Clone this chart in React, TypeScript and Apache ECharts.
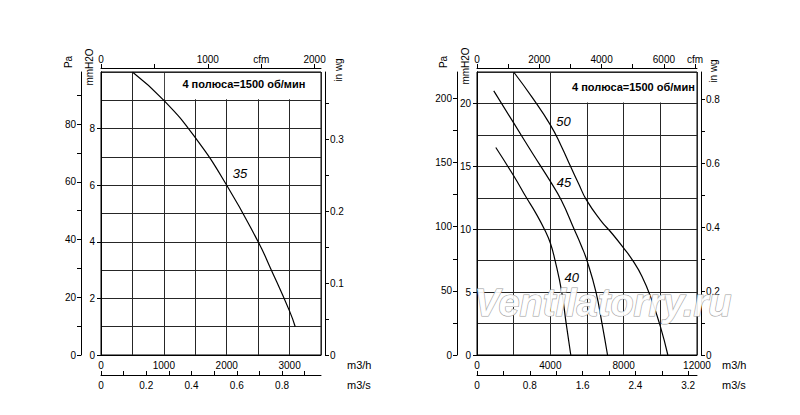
import React, { useEffect, useRef } from "react";
import * as echarts from "echarts";

// ---------- unit conversions ----------
const M3H_PER_CFM = 1.699011;
const PA_PER_MM = 9.80665;
const MM_PER_INWG = 25.4;
const M3H_PER_M3S = 3600;

// ---------- left chart (fan 35) ----------
const leftFlowMax = 3500; // m3/h
const leftPressMax = 10; // mmH2O
const leftFlowInterval = 500;
const leftFlowLabels = [0, 1000, 2000, 3000];
const leftM3sTicks = [0, 0.1, 0.2, 0.3, 0.4, 0.5, 0.6, 0.7, 0.8, 0.9];
const leftM3sLabels = [0, 0.2, 0.4, 0.6, 0.8];
const leftCfmTicks = [0, 500, 1000, 1500, 2000];
const leftCfmLabels = [0, 1000, 1500, 2000]; // 1500 shows "cfm"
const leftCfmNameAt = 1500;
const leftMmInterval = 1;
const leftMmLabels = [0, 2, 4, 6, 8];
const leftPaTicks = [0, 10, 20, 30, 40, 50, 60, 70, 80, 90];
const leftPaLabels = [0, 20, 40, 60, 80];
const leftInwgTicks = [0, 0.05, 0.1, 0.15, 0.2, 0.25, 0.3, 0.35];
const leftInwgLabels = [0, 0.1, 0.2, 0.3];
const curve35: number[][] = [
  [500, 10], [1000, 9], [1500, 7.68], [2000, 6], [2500, 4], [2700, 3.05], [3000, 1.55], [3090, 1],
];
const leftCurveLabels = [{ name: "35", at: [2210, 6.43] }];
const leftNote = { text: "4 полюса=1500 об/мин", at: [2273, 9.56], box: [1000, 10, 3500, 9] };

// ---------- right chart (fans 40, 45, 50) ----------
const rightFlowMax = 12000;
const rightPressMax = 22.5;
const rightFlowInterval = 2000;
const rightFlowLabels = [0, 4000, 8000, 12000];
const rightM3sTicks = [0, 0.4, 0.8, 1.2, 1.6, 2, 2.4, 2.8, 3.2];
const rightM3sLabels = [0, 0.8, 1.6, 2.4, 3.2];
const rightCfmTicks = [0, 1000, 2000, 3000, 4000, 5000, 6000, 7000];
const rightCfmLabels = [0, 2000, 4000, 6000, 7000]; // 7000 shows "cfm"
const rightCfmNameAt = 7000;
const rightMmInterval = 2.5;
const rightMmLabels = [0, 5, 10, 15, 20];
const rightPaTicks = [0, 25, 50, 75, 100, 125, 150, 175, 200];
const rightPaLabels = [0, 50, 100, 150, 200];
const rightInwgTicks = [0, 0.1, 0.2, 0.3, 0.4, 0.5, 0.6, 0.7, 0.8];
const rightInwgLabels = [0, 0.2, 0.4, 0.6, 0.8];
const curve50: number[][] = [
  [2000, 22.5], [3000, 20.5], [4000, 18.3], [4600, 16.6], [5100, 15], [5550, 13.6], [5960, 12.35],
  [6720, 10.75], [7400, 9.6], [8000, 8.5], [8500, 7.5], [9000, 6.25], [9500, 4.5], [10000, 2.28],
  [10410, 0],
];
const curve45: number[][] = [
  [915, 21], [2000, 18.45], [3000, 16.1], [4000, 13.8], [4600, 12.3], [5300, 10], [5700, 8.65],
  [6000, 7.5], [6490, 5], [6820, 2.5], [7120, 0],
];
const curve40: number[][] = [
  [1025, 16.5], [2000, 14.25], [2700, 12.5], [3200, 11.3], [3710, 9.9], [4000, 8.9], [4260, 7.5],
  [4623, 5], [4865, 2.5], [5115, 0],
];
const rightCurveLabels = [
  { name: "50", at: [4712, 18.6] },
  { name: "45", at: [4751, 13.74] },
  { name: "40", at: [5173, 6.18] },
];
const rightNote = { text: "4 полюса=1500 об/мин", at: [8532, 21.27], box: [4000, 22.5, 12000, 20] };

const watermark = "Ventilatorry.ru";

const FONT = '"Liberation Sans", Arial, Helvetica, sans-serif';
const TICK_FS = 10;
const GRID_COLOR = "#262626";

const num = (v: number) => String(Math.round(v * 1000) / 1000);

function buildGridAxes(
  gridIndex: number,
  cfg: {
    flowMax: number; pressMax: number; flowInterval: number; flowLabels: number[];
    m3sTicks: number[]; m3sLabels: number[]; cfmTicks: number[]; cfmLabels: number[]; cfmNameAt: number;
    mmInterval: number; mmLabels: number[]; paTicks: number[]; paLabels: number[];
    inwgTicks: number[]; inwgLabels: number[];
  }
) {
  const lbl = { color: "#000", fontSize: TICK_FS, fontFamily: FONT };
  const line = { show: true, onZero: false, lineStyle: { color: "#000", width: 1 } };
  const xAxes = [
    {
      gridIndex, type: "value", position: "bottom", min: 0, max: cfg.flowMax, interval: cfg.flowInterval,
      axisLine: line, axisTick: { show: false },
      axisLabel: { ...lbl, margin: 5, customValues: cfg.flowLabels, formatter: (v: number) => (cfg.flowLabels.includes(v) ? num(v) : "") },
      splitLine: { show: true, lineStyle: { color: GRID_COLOR, width: 1 } },
    },
    {
      gridIndex, type: "value", position: "bottom", offset: 20, min: 0, max: cfg.flowMax / M3H_PER_M3S,
      axisLine: line,
      axisTick: { show: true, inside: true, length: 4, customValues: cfg.m3sTicks, lineStyle: { color: "#000" } },
      axisLabel: { ...lbl, margin: 5, customValues: cfg.m3sLabels, formatter: (v: number) => num(v) },
      splitLine: { show: false },
    },
    {
      gridIndex, type: "value", position: "top", offset: 4, min: 0, max: cfg.flowMax / M3H_PER_CFM,
      axisLine: line,
      axisTick: { show: true, inside: false, length: 4, customValues: cfg.cfmTicks, lineStyle: { color: "#000" } },
      axisLabel: { ...lbl, margin: 4, customValues: cfg.cfmLabels, formatter: (v: number) => (Math.abs(v - cfg.cfmNameAt) < 1e-6 ? "cfm" : num(v)) },
      splitLine: { show: false },
    },
  ];
  const yAxes = [
    {
      // mmH2O: grid lines + labels
      gridIndex, type: "value", position: "left", min: 0, max: cfg.pressMax, interval: cfg.mmInterval,
      axisLine: line,
      axisTick: { show: false },
      axisLabel: { ...lbl, margin: 6, customValues: cfg.mmLabels, formatter: (v: number) => (cfg.mmLabels.includes(v) ? num(v) : "") },
      splitLine: { show: true, lineStyle: { color: GRID_COLOR, width: 1 } },
    },
    {
      gridIndex, type: "value", position: "left", offset: 20, min: 0, max: cfg.pressMax * PA_PER_MM,
      axisLine: line,
      axisTick: { show: true, length: 4, customValues: cfg.paTicks, lineStyle: { color: "#000" } },
      axisLabel: { ...lbl, margin: 5, customValues: cfg.paLabels, formatter: (v: number) => num(v) },
      splitLine: { show: false },
    },
    {
      gridIndex, type: "value", position: "right", offset: 4, min: 0, max: cfg.pressMax / MM_PER_INWG,
      axisLine: line,
      axisTick: { show: true, length: 4, customValues: cfg.inwgTicks, lineStyle: { color: "#000" } },
      axisLabel: { ...lbl, margin: 5, customValues: cfg.inwgLabels, formatter: (v: number) => num(v) },
      splitLine: { show: false },
    },
    {
      // mmH2O: ticks only at labelled values
      gridIndex, type: "value", position: "left", offset: 0, min: 0, max: cfg.pressMax,
      axisLine: line,
      axisTick: { show: true, length: 4, customValues: cfg.mmLabels, lineStyle: { color: "#000" } },
      axisLabel: { show: false },
      splitLine: { show: false },
    },
  ];
  return { xAxes, yAxes };
}

const leftAxes = buildGridAxes(0, {
  flowMax: leftFlowMax, pressMax: leftPressMax, flowInterval: leftFlowInterval, flowLabels: leftFlowLabels,
  m3sTicks: leftM3sTicks, m3sLabels: leftM3sLabels, cfmTicks: leftCfmTicks, cfmLabels: leftCfmLabels, cfmNameAt: leftCfmNameAt,
  mmInterval: leftMmInterval, mmLabels: leftMmLabels, paTicks: leftPaTicks, paLabels: leftPaLabels,
  inwgTicks: leftInwgTicks, inwgLabels: leftInwgLabels,
});
const rightAxes = buildGridAxes(1, {
  flowMax: rightFlowMax, pressMax: rightPressMax, flowInterval: rightFlowInterval, flowLabels: rightFlowLabels,
  m3sTicks: rightM3sTicks, m3sLabels: rightM3sLabels, cfmTicks: rightCfmTicks, cfmLabels: rightCfmLabels, cfmNameAt: rightCfmNameAt,
  mmInterval: rightMmInterval, mmLabels: rightMmLabels, paTicks: rightPaTicks, paLabels: rightPaLabels,
  inwgTicks: rightInwgTicks, inwgLabels: rightInwgLabels,
});

// axis indices: left grid x 0..2 / y 0..3, right grid x 3..5 / y 4..7
const L_X = 0, L_Y = 0, R_X = 3, R_Y = 4;

const curveSeries = (data: number[][], xAxisIndex: number, yAxisIndex: number) => ({
  type: "line", data, xAxisIndex, yAxisIndex, smooth: 0.5, showSymbol: false, symbol: "none",
  lineStyle: { color: "#000", width: 1.2 }, silent: true, z: 5,
});

const option: any = {
  animation: false,
  backgroundColor: "#fff",
  textStyle: { fontFamily: FONT },
  grid: [
    { left: 101, top: 72, width: 220, height: 283, show: true, borderColor: "#000", borderWidth: 1, backgroundColor: "transparent" },
    { left: 477, top: 72, width: 220, height: 283, show: true, borderColor: "#000", borderWidth: 1, backgroundColor: "transparent" },
  ],
  xAxis: [...leftAxes.xAxes, ...rightAxes.xAxes],
  yAxis: [...leftAxes.yAxes, ...rightAxes.yAxes],
  series: [
    curveSeries(curve35, L_X, L_Y),
    curveSeries(curve50, R_X, R_Y),
    curveSeries(curve45, R_X, R_Y),
    curveSeries(curve40, R_X, R_Y),
  ],
};

function unitText(text: string, x: number, y: number, rotated: boolean, fontSize = 10, align = "center") {
  return {
    type: "text", x, y, rotation: rotated ? Math.PI / 2 : 0, z: 20, silent: true,
    style: { text, fill: "#000", font: `${fontSize}px ${FONT}`, textAlign: align, textVerticalAlign: "middle" },
  };
}

function buildGraphics(chart: echarts.ECharts) {
  const els: any[] = [];
  const px = (xi: number, yi: number, p: number[]) =>
    chart.convertToPixel({ xAxisIndex: xi, yAxisIndex: yi } as any, p) as number[];

  const notes = [
    { note: leftNote, xi: L_X, yi: L_Y },
    { note: rightNote, xi: R_X, yi: R_Y },
  ];
  notes.forEach(({ note, xi, yi }) => {
    const a = px(xi, yi, [note.box[0], note.box[1]]);
    const b = px(xi, yi, [note.box[2], note.box[3]]);
    els.push({
      type: "rect", z: 3, silent: true,
      shape: { x: a[0] + 1, y: a[1] + 1, width: b[0] - a[0] - 2, height: b[1] - a[1] - 2 },
      style: { fill: "#fff" },
    });
    const t = px(xi, yi, note.at);
    els.push({
      type: "text", x: t[0], y: t[1], z: 20, silent: true,
      style: { text: note.text, fill: "#000", font: `bold 11px ${FONT}`, textAlign: "center", textVerticalAlign: "middle" },
    });
  });

  const labels = [
    ...leftCurveLabels.map((l) => ({ ...l, xi: L_X, yi: L_Y })),
    ...rightCurveLabels.map((l) => ({ ...l, xi: R_X, yi: R_Y })),
  ];
  labels.forEach((l) => {
    const p = px(l.xi, l.yi, l.at);
    els.push({
      type: "text", x: p[0], y: p[1], z: 20, silent: true,
      style: { text: l.name, fill: "#000", font: `italic 13px ${FONT}`, textAlign: "center", textVerticalAlign: "middle" },
    });
  });

  // axis unit names
  els.push(unitText("Pa", 68, 62, true));
  els.push(unitText("mmH2O", 89, 67, true));
  els.push(unitText("in wg", 338, 70, true));
  els.push(unitText("m3/h", 347, 365, false, 11, "left"));
  els.push(unitText("m3/s", 347, 385, false, 11, "left"));
  els.push(unitText("Pa", 443, 62, true));
  els.push(unitText("mmH2O", 465, 66, true));
  els.push(unitText("in wg", 713, 71, true));
  els.push(unitText("m3/h", 722, 365, false, 11, "left"));
  els.push(unitText("m3/s", 722, 385, false, 11, "left"));

  // watermark
  els.push({
    type: "text", x: 603, y: 303, z: 30, silent: true,
    style: {
      text: watermark, fill: "rgba(255,255,255,0.92)", stroke: "#a0a0a0", lineWidth: 1.1,
      font: `bold italic 38px ${FONT}`, textAlign: "center", textVerticalAlign: "middle",
    },
  });
  return els;
}

export default function App() {
  const ref = useRef<HTMLDivElement>(null);
  useEffect(() => {
    const chart = echarts.init(ref.current!, null, { renderer: "svg" });
    chart.setOption(option);
    chart.setOption({ graphic: { elements: buildGraphics(chart) } });
    return () => chart.dispose();
  }, []);
  return <div ref={ref} style={{ position: "fixed", left: 0, top: 0, width: 800, height: 415, background: "#fff" }} />;
}
